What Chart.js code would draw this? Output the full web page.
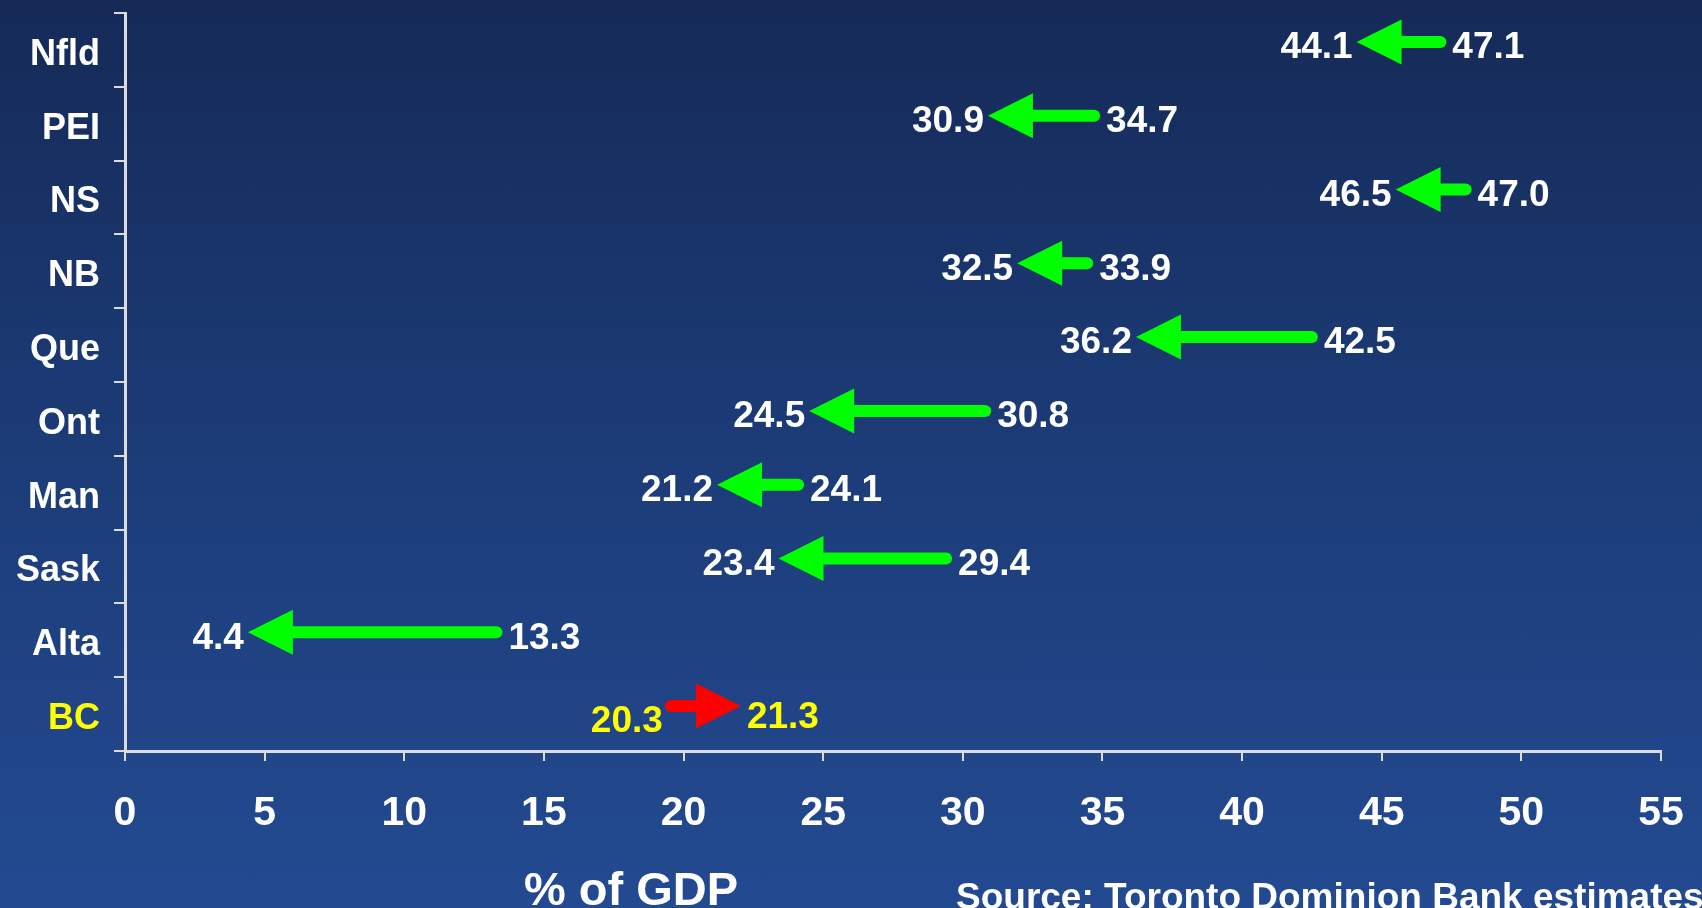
<!DOCTYPE html>
<html>
<head>
<meta charset="utf-8">
<script src="https://cdn.jsdelivr.net/npm/chart.js@4.4.1/dist/chart.umd.min.js"></script>
<style>
  html, body { margin: 0; padding: 0; width: 1702px; height: 908px; overflow: hidden;
    background: linear-gradient(to bottom, #152a57 0%, #1c3c78 50%, #234a91 100%); }
  #wrap { position: relative; width: 1702px; height: 908px; }
  canvas { display: block; }
</style>
</head>
<body>
<div id="wrap"><canvas id="c" width="1702" height="908"></canvas></div>
<script>
// ---- data ----
const provinces   = ['Nfld', 'PEI', 'NS', 'NB', 'Que', 'Ont', 'Man', 'Sask', 'Alta', 'BC'];
const startValues = [47.1, 34.7, 47.0, 33.9, 42.5, 30.8, 24.1, 29.4, 13.3, 20.3];
const endValues   = [44.1, 30.9, 46.5, 32.5, 36.2, 24.5, 21.2, 23.4, 4.4, 21.3];
const highlighted = ['BC'];
const xMin = 0, xMax = 55, xStep = 5;
const axisTitle = '% of GDP';
const sourceText = 'Source: Toronto Dominion Bank estimates';

const FONT = '"Liberation Sans", Arial, Helvetica, sans-serif';
const WHITE = '#ffffff', YELLOW = '#ffff00', GREEN = '#00ff00', RED = '#ff0000';
const AXIS = '#dcdcdc';

const arrowPlugin = {
  id: 'arrows',
  afterDatasetsDraw(chart) {
    const ctx = chart.ctx;
    const xs = chart.scales.x, ys = chart.scales.y;
    const headLen = 45, headHalf = 22.5, lineW = 12, minLen = 70;
    ctx.save();
    provinces.forEach((p, i) => {
      const a = startValues[i], b = endValues[i];
      const hl = highlighted.includes(p);
      const up = b > a;
      let x0 = xs.getPixelForValue(a), x1 = xs.getPixelForValue(b);
      const len = Math.abs(x1 - x0);
      if (len < minLen) {
        const mid = (x0 + x1) / 2, d = up ? 1 : -1;
        x0 = mid - d * minLen / 2; x1 = mid + d * minLen / 2;
      }
      const yc = ys.getPixelForValue(i);
      const y = yc - 8;
      const d = up ? 1 : -1;
      const color = up ? RED : GREEN;
      const baseX = x1 - d * headLen;
      // shaft
      ctx.strokeStyle = color; ctx.lineWidth = lineW; ctx.lineCap = 'round';
      ctx.beginPath(); ctx.moveTo(x0, y); ctx.lineTo(baseX + d * 2, y); ctx.stroke();
      // head
      ctx.fillStyle = color;
      ctx.beginPath();
      ctx.moveTo(x1, y);
      ctx.lineTo(baseX, y - headHalf);
      ctx.lineTo(baseX, y + headHalf);
      ctx.closePath(); ctx.fill();
      // labels
      ctx.font = 'bold 37px ' + FONT;
      ctx.textBaseline = 'middle';
      ctx.fillStyle = hl ? YELLOW : WHITE;
      const ly = hl ? yc + 4 : yc - 2;
      if (up) {
        ctx.textAlign = 'right'; ctx.fillText(a.toFixed(1), x0 - 8, ly + 4);
        ctx.textAlign = 'left';  ctx.fillText(b.toFixed(1), x1 + 6, ly);
      } else {
        ctx.textAlign = 'right'; ctx.fillText(b.toFixed(1), x1 - 4, ly);
        ctx.textAlign = 'left';  ctx.fillText(a.toFixed(1), x0 + 12, ly);
      }
    });
    // axis title and source
    ctx.fillStyle = WHITE;
    ctx.textAlign = 'left'; ctx.textBaseline = 'alphabetic';
    ctx.font = 'bold 47px ' + FONT;
    ctx.fillText(axisTitle, 524, 905);
    ctx.font = 'bold 37px ' + FONT;
    ctx.fillText(sourceText, 956, 909);
    ctx.restore();
  }
};

new Chart(document.getElementById('c'), {
  type: 'bar',
  data: {
    labels: provinces,
    datasets: [{
      data: provinces.map((p, i) => [startValues[i], endValues[i]]),
      backgroundColor: 'rgba(0,0,0,0)',
      borderWidth: 0
    }]
  },
  options: {
    indexAxis: 'y',
    responsive: false,
    animation: false,
    layout: { padding: { top: 13, right: 41, left: 0, bottom: 0 } },
    plugins: { legend: { display: false }, tooltip: { enabled: false } },
    scales: {
      x: {
        type: 'linear', min: xMin, max: xMax,
        ticks: { stepSize: xStep, color: WHITE, font: { family: FONT, size: 41, weight: 'bold' }, padding: 28, maxRotation: 0 },
        grid: { drawOnChartArea: false, drawTicks: true, tickLength: 10, color: AXIS, lineWidth: 2 },
        border: { display: true, color: AXIS, width: 3 },
        afterFit(s) { s.height = 157; s.paddingLeft = 0; s.paddingRight = 0; }
      },
      y: {
        type: 'category', offset: true,
        ticks: {
          color: (c) => highlighted.includes(provinces[c.index]) ? YELLOW : WHITE,
          font: { family: FONT, size: 36, weight: 'bold' }, padding: 14, labelOffset: 5
        },
        grid: { offset: true, drawOnChartArea: false, drawTicks: true, tickLength: 11, color: AXIS, lineWidth: 2 },
        border: { display: true, color: AXIS, width: 3 },
        afterFit(s) { s.width = 125; s.paddingTop = 0; s.paddingBottom = 0; }
      }
    }
  },
  plugins: [arrowPlugin]
});
</script>
</body>
</html>
